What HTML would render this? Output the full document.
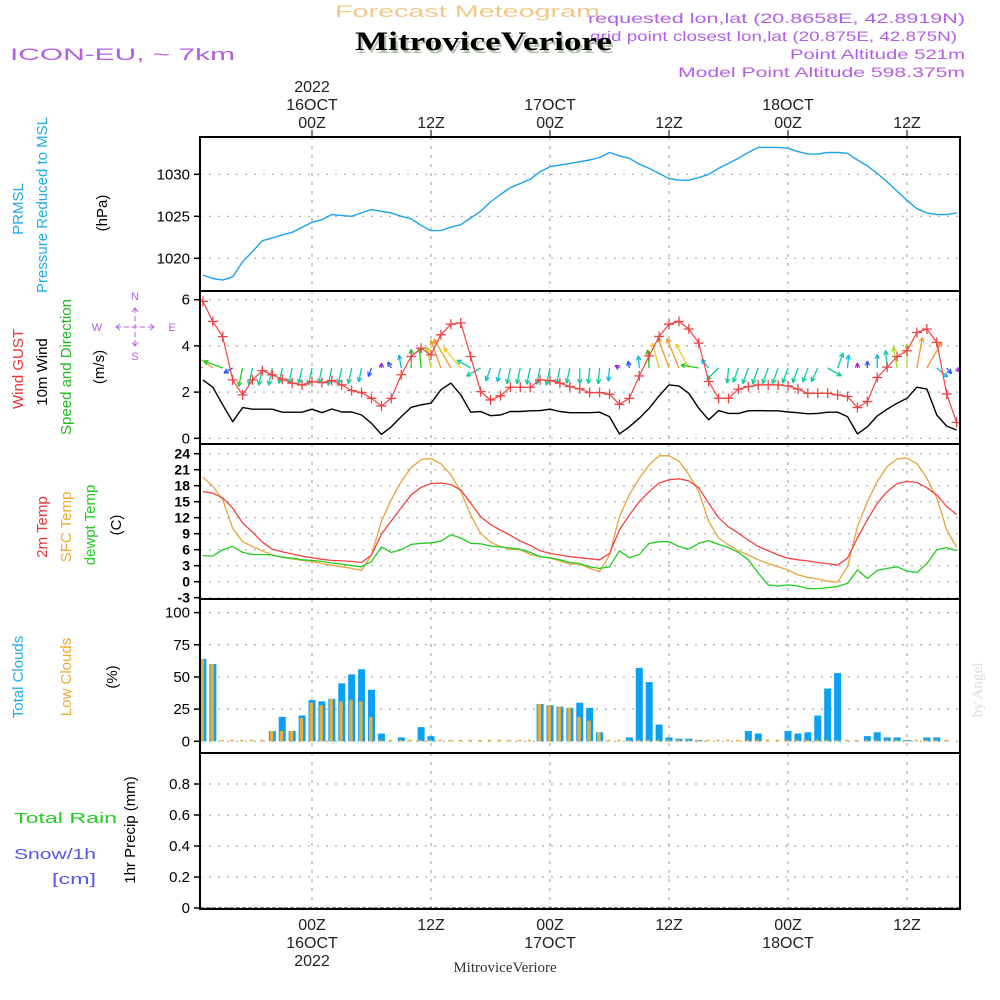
<!DOCTYPE html>
<html><head><meta charset="utf-8"><title>Forecast Meteogram</title>
<style>
html,body{margin:0;padding:0;background:#fff;}
svg{display:block;font-family:"Liberation Sans",sans-serif;}
</style></head>
<body>
<svg id="chart" xmlns="http://www.w3.org/2000/svg" width="1000" height="1000" viewBox="0 0 1000 1000">
<defs><clipPath id="plotclip"><rect x="200" y="130" width="760" height="790"/></clipPath></defs>
<rect x="0" y="0" width="1000" height="1000" fill="#fff"/>
<!-- header -->
<text x="335" y="17" font-size="17" fill="#f3c98a" textLength="265" lengthAdjust="spacingAndGlyphs">Forecast Meteogram</text>
<text x="588" y="23" font-size="14" fill="#b35ee6" textLength="377" lengthAdjust="spacingAndGlyphs">requested lon,lat (20.8658E, 42.8919N)</text>
<text x="590" y="41" font-size="14" fill="#b35ee6" textLength="367" lengthAdjust="spacingAndGlyphs">grid point closest lon,lat (20.875E, 42.875N)</text>
<text x="790" y="59" font-size="14" fill="#b35ee6" textLength="175" lengthAdjust="spacingAndGlyphs">Point Altitude 521m</text>
<text x="678" y="77" font-size="14" fill="#b35ee6" textLength="287" lengthAdjust="spacingAndGlyphs">Model Point Altitude 598.375m</text>
<text x="10" y="60" font-size="17" fill="#b35ee6" textLength="225" lengthAdjust="spacingAndGlyphs">ICON-EU, ~ 7km</text>
<text x="357" y="53" font-size="26" font-weight="bold" fill="#b9c6b3" font-family="Liberation Serif, serif" textLength="257" lengthAdjust="spacingAndGlyphs">MitroviceVeriore</text>
<text x="355" y="50" font-size="26" font-weight="bold" fill="#000" font-family="Liberation Serif, serif" textLength="257" lengthAdjust="spacingAndGlyphs">MitroviceVeriore</text>
<text x="982" y="690" font-size="15" fill="#dcdcdc" font-family="Liberation Serif, serif" text-anchor="middle" transform="rotate(-90 982 690)">by Angel</text>
<text x="505" y="972" font-size="15" fill="#333" font-family="Liberation Serif, serif" text-anchor="middle">MitroviceVeriore</text>

<!-- left labels -->
<g font-size="15" text-anchor="middle">
<text transform="translate(23,209) rotate(-90)" fill="#22aaee">PRMSL</text>
<text transform="translate(47,205) rotate(-90)" fill="#22aaee">Pressure Reduced to MSL</text>
<text transform="translate(107,213) rotate(-90)" fill="#000">(hPa)</text>
<text transform="translate(23,369) rotate(-90)" fill="#ee3333">Wind GUST</text>
<text transform="translate(47,372) rotate(-90)" fill="#000">10m Wind</text>
<text transform="translate(71,367) rotate(-90)" fill="#22bb22">Speed and Direction</text>
<text transform="translate(104,367) rotate(-90)" fill="#000">(m/s)</text>
<text transform="translate(47,527) rotate(-90)" fill="#ee3333">2m Temp</text>
<text transform="translate(71,527) rotate(-90)" fill="#eeaa33">SFC Temp</text>
<text transform="translate(95,525) rotate(-90)" fill="#22cc22">dewpt Temp</text>
<text transform="translate(121,525) rotate(-90)" fill="#000">(C)</text>
<text transform="translate(23,677) rotate(-90)" fill="#22aaee">Total Clouds</text>
<text transform="translate(71,677) rotate(-90)" fill="#eeaa33">Low Clouds</text>
<text transform="translate(117,677) rotate(-90)" fill="#000">(%)</text>
<text transform="translate(135,830) rotate(-90)" fill="#000">1hr Precip (mm)</text>
</g>
<text x="14" y="823" font-size="15" fill="#22cc22" textLength="103" lengthAdjust="spacingAndGlyphs">Total   Rain</text>
<text x="14" y="859" font-size="15" fill="#5555ee" textLength="82" lengthAdjust="spacingAndGlyphs">Snow/1h</text>
<text x="52" y="884" font-size="15" fill="#5555ee" textLength="44" lengthAdjust="spacingAndGlyphs">[cm]</text>

<!-- compass -->
<g stroke="#b35ee6" fill="none" stroke-width="1">
<line x1="116" y1="327" x2="154" y2="327" stroke-dasharray="5 3"/>
<line x1="135" y1="308" x2="135" y2="346" stroke-dasharray="5 3"/>
<polyline points="120,324 116,327 120,330"/><polyline points="150,324 154,327 150,330"/>
<polyline points="132,312 135,308 138,312"/><polyline points="132,342 135,346 138,342"/>
</g>
<g font-size="11" fill="#b35ee6" text-anchor="middle">
<text x="135" y="300">N</text><text x="135" y="360">S</text><text x="97" y="331">W</text><text x="172" y="331">E</text>
</g>

<g id="grid"></g>
<g id="marks" clip-path="url(#plotclip)"></g>
<g id="axes"></g>
</svg>
<script>
// ---- data (hourly, starting 13Z 15 OCT 2022) ----
const timeTicks = [0, 12, 24, 36, 48, 60]; // hours since 00Z 16OCT
const timeTickLabels = ["00Z","12Z","00Z","12Z","00Z","12Z"];
const dateLabels = ["16OCT","","17OCT","","18OCT",""];
const yearLabels = ["2022","","","","",""];
const pressure = [1018.0,1017.6,1017.4,1017.8,1019.6,1020.8,1022.1,1022.4,1022.8,1023.1,1023.7,1024.3,1024.6,1025.2,1025.1,1025.0,1025.4,1025.8,1025.6,1025.4,1025.0,1024.7,1023.9,1023.3,1023.3,1023.7,1024.0,1024.8,1025.6,1026.7,1027.6,1028.4,1028.9,1029.4,1030.3,1030.9,1031.1,1031.3,1031.5,1031.7,1032.0,1032.6,1032.2,1031.9,1031.2,1030.7,1030.1,1029.5,1029.3,1029.3,1029.6,1030.0,1030.7,1031.3,1031.9,1032.6,1033.2,1033.2,1033.2,1033.1,1032.7,1032.4,1032.4,1032.6,1032.6,1032.5,1031.7,1031.0,1030.1,1029.1,1028.0,1026.9,1025.9,1025.4,1025.2,1025.2,1025.4];
const windGust = [5.93,5.06,4.4,2.53,1.88,2.53,2.93,2.75,2.56,2.39,2.31,2.46,2.41,2.5,2.31,2.07,1.98,1.73,1.4,1.73,2.75,3.54,3.9,3.61,4.48,4.94,4.99,3.54,2.02,1.66,1.84,2.21,2.21,2.21,2.53,2.5,2.39,2.24,
 2.14,1.98,1.98,1.91,1.47,1.73,2.7,3.57,4.41,4.94,5.06,4.73,4.12,2.46,1.73,1.73,2.13,2.24,2.31,2.31,2.31,2.27,2.13,1.95,1.95,1.95,1.88,1.81,1.33,1.59,2.63,3.08,3.54,3.79,4.58,4.73,4.15,1.92,0.69];
const windSpeed = [2.53,2.21,1.45,0.72,1.33,1.26,1.26,1.26,1.13,1.13,1.13,1.26,1.11,1.27,1.14,1.14,1.01,0.65,0.17,0.5,0.94,1.34,1.45,1.52,2.1,2.39,1.88,1.13,1.16,0.98,1.01,1.16,1.16,1.19,1.2,1.26,1.16,1.11,
 1.11,1.11,1.13,0.94,0.19,0.5,0.87,1.3,1.84,2.31,2.27,1.95,1.3,0.8,1.2,1.08,1.08,1.19,1.2,1.19,1.19,1.14,1.11,1.06,1.08,1.13,1.13,0.94,0.19,0.5,0.97,1.26,1.52,1.73,2.21,2.13,1.01,0.53,0.36];
// arrow pointing direction in degrees (0 = up/north, clockwise)
const windDir = [-60,-55,-70,-120,192,192,192,192,192,192,192,192,192,192,192,192,192,200,0,-30,-10,0,-5,-10,-20,-30,-40,-60,-120,200,192,192,192,192,192,192,192,192,
 180,185,185,185,-60,-10,-5,-5,-15,-20,-22,-28,-80,-40,225,185,200,200,200,200,200,200,200,200,205,120,20,5,0,0,0,-5,-10,0,10,30,130,140,140];
const temp2m = [16.9,16.6,15.7,13.8,11,9.3,7.4,6.1,5.6,5.2,4.8,4.5,4.2,4.0,3.9,3.8,3.6,5,8.9,11.4,13.9,16.3,17.7,18.4,18.5,18.2,17.2,14.7,12.2,10.7,9.7,8.7,7.6,6.8,5.8,5.3,5.0,4.7,
 4.5,4.3,4.1,5.3,9.7,12.5,15,16.9,18.5,19.1,19.3,18.9,17.6,14.7,12,10.3,9.1,7.8,6.6,5.8,5,4.4,4.1,3.9,3.6,3.4,3.1,4.4,8.2,11.6,14.7,16.9,18.4,18.8,18.6,17.6,16.3,14.1,12.6];
const tempSfc = [19.6,17.9,15.4,10,7.5,6.6,5.8,5,4.6,4.3,4,3.8,3.4,3.1,2.8,2.5,2.1,5,11.3,15.4,18.8,21.4,22.9,23.1,22.1,20.1,16.9,12.5,9.1,7.4,6.6,6.1,6,5.1,4.7,4.4,3.9,3.3,
 3.3,2.5,1.9,5,12.2,16.3,19.4,21.9,23.6,23.6,22.6,20.1,16.9,11.3,8.2,6.9,5.8,5,4.1,3.4,2.8,2.2,1.3,0.8,0.5,0.1,-0.1,2.8,10.3,15,18.8,21.6,23,23.2,22.1,19.4,15.7,9.7,6.5];
const dewpoint = [4.9,4.8,6,6.6,5.5,5.1,5.1,5,4.6,4.4,4.1,4,3.8,3.5,3.3,3,2.8,3.8,6.5,5.5,6,7,7.2,7.3,7.6,8.8,8.2,7.2,7.1,6.7,6.5,6.3,6.1,5.5,4.7,4.5,4.1,3.6,
 3.4,2.8,2.5,2.8,5.8,4.5,5.1,7.2,7.5,7.5,6.6,6.1,7.2,7.7,7,6.4,5.5,4.1,1.6,-0.6,-0.8,-0.6,-0.8,-1.3,-1.3,-1.1,-0.9,-0.3,2.2,0.6,2.1,2.5,2.8,2,1.7,3.4,6,6.4,5.8];
const totalClouds = [64,60,0,0,0,0,0,8,19,8,20,32,31,33,45,52,56,40,6,0,3,0,11,4,0,0,0,0,0,0,0,0,0,0,29,28,27,26,30,26,7,0,0,3,57,46,13,3,2,2,1,0,0,0,0,8,6,0,0,8,6,7,20,41,53,0,0,4,7,3,3,1,0,3,3,0];
const lowClouds = [64,60,0,0,0,0,0,8,8,8,18,30,28,33,31,32,31,19,0,0,0,0,0,0,0,0,0,0,0,0,0,0,0,0,29,28,27,26,19,16,7,0,0,0,0,0,0,0,0,0,0,0,0,0,0,0,0,0,0,0,0,0,0,0,0,0,0,0,0,0,0,0,0,0,0,0];
const precip = [];
const pTicks = [1020,1025,1030];
const wTicks = [0,2,4,6];
const tTicks = [-3,0,3,6,9,12,15,18,21,24];
const cTicks = [0,25,50,75,100];
const rTicks = [0,0.2,0.4,0.6,0.8];
const rTickLabels = ["0","0.2","0.4","0.6","0.8"];

// ---- scales ----
const X0 = 200, X1 = 960;
const START_OFFSET = -11; // index 0 = 13Z 15OCT
const PX_PER_H = 9.917;
function xH(h){ return 312 + h*PX_PER_H; }
function xI(i){ return xH(i + START_OFFSET); }
function yP(v){ return 174.3 + (1030 - v)*8.4; }
function yW(v){ return 438.3 - v*23.1; }
function yT(v){ return 581.7 - v*5.333; }
function yC(v){ return 741.3 - v*1.287; }
function yR(v){ return 908 - v*155; }

const NS = "http://www.w3.org/2000/svg";
function mk(tag, attrs, parent){
  const e = document.createElementNS(NS, tag);
  for (const k in attrs) e.setAttribute(k, attrs[k]);
  parent.appendChild(e);
  return e;
}
const grid = document.getElementById('grid');
const marks = document.getElementById('marks');
const axes = document.getElementById('axes');

const panels = [
  {top:137, bot:291, ticks:pTicks, labels:pTicks.map(String), y:yP, name:'pressure', fs:15, bold:false},
  {top:291, bot:444, ticks:wTicks, labels:wTicks.map(String), y:yW, name:'wind', fs:15, bold:false},
  {top:444, bot:599, ticks:tTicks, labels:tTicks.map(String), y:yT, name:'temperature', fs:14, bold:true},
  {top:599, bot:753, ticks:cTicks, labels:cTicks.map(String), y:yC, name:'clouds', fs:15, bold:false},
  {top:753, bot:909, ticks:rTicks, labels:rTickLabels, y:yR, name:'precip', fs:15, bold:false}
];

// gridlines
panels.forEach(p => {
  p.ticks.forEach((t, k) => {
    const yy = p.y(t);
    const g = mk('line', {x1:X0, x2:X1, y1:yy, y2:yy, stroke:'#aaa', 'stroke-width':1.2, 'stroke-dasharray':'2 7'}, grid);
    
    
    const tk = mk('line', {x1:194, x2:200, y1:yy, y2:yy, stroke:'#000', 'stroke-width':1.5}, axes);
    
    
    const tx = mk('text', {x:190, y:yy+5, 'font-size':p.fs, 'text-anchor':'end', fill:'#000', 'font-weight':p.bold?'bold':'normal'}, axes);
    tx.textContent = p.labels[k];
    
    
  });
  timeTicks.forEach(h => {
    const g = mk('line', {x1:xH(h), x2:xH(h), y1:p.top, y2:p.bot, stroke:'#aaa', 'stroke-width':1.2, 'stroke-dasharray':'3 6'}, grid);
    
    
  });
});

// time axis labels
timeTicks.forEach((h, k) => {
  const x = xH(h);
  const t1 = mk('line', {x1:x, x2:x, y1:130, y2:137, stroke:'#000', 'stroke-width':1}, axes);
  
  
  const lines = [[timeTickLabels[k],128,930],[dateLabels[k],110,948],[yearLabels[k],92,966]];
  lines.forEach(L => {
    if (!L[0]) return;
    const a = mk('text', {x:x, y:L[1], 'font-size':16, 'text-anchor':'middle', fill:'#222'}, axes);
    a.textContent = L[0];
    
    
    const b = mk('text', {x:x, y:L[2], 'font-size':16, 'text-anchor':'middle', fill:'#222'}, axes);
    b.textContent = L[0];
    
    
  });
});

function line(arr, yf, color, name, w){
  const pts = arr.map((v,i) => xI(i).toFixed(1) + ',' + yf(v).toFixed(1)).join(' ');
  const l = mk('polyline', {points:pts, fill:'none', stroke:color, 'stroke-width':w||1.3, 'stroke-linejoin':'round'}, marks);
  
  
}

// pressure
line(pressure, yP, '#1ba3f0', 'pressure-line', 1.4);

// clouds
totalClouds.forEach((v, i) => {
  const x = xI(i);
  if (v > 0) {
    const r = mk('rect', {x:x-3.5, y:yC(v), width:7, height:yC(0)-yC(v), fill:'#0aa0f5'}, marks);
    
    
  }
  const lv = lowClouds[i];
  const hgt = Math.max(yC(0)-yC(lv), 1.5);
  const o = mk('rect', {x:x-2.5, y:yC(0)-hgt, width:3.5, height:hgt, fill:'#e8ad3a'}, marks);
  
  
});

// temperature
line(tempSfc, yT, '#e8a33a', 'sfc-temp-line', 1.3);
line(dewpoint, yT, '#22cc22', 'dewpoint-line', 1.3);
line(temp2m, yT, '#f04444', '2m-temp-line', 1.3);

// wind speed black
line(windSpeed, yW, '#000', 'wind-speed-line', 1.4);

// wind arrows
function arrowColor(s){
  if (s < 0.4) return '#9a22ee';
  if (s < 0.8) return '#3355ff';
  if (s < 1.05) return '#11bbdd';
  if (s < 1.3) return '#11cc99';
  if (s < 1.5) return '#22cc22';
  if (s < 1.8) return '#aadd22';
  if (s < 2.05) return '#eecc22';
  return '#ee9933';
}
windSpeed.forEach((s, i) => {
  const x = xI(i), y = 368;
  const a = windDir[i] * Math.PI / 180;
  const L = Math.max(5, 14*s);
  const hx = x + L*Math.sin(a), hy = y - L*Math.cos(a);
  const c = arrowColor(s);
  const g = mk('g', {stroke:c, 'stroke-width':1.3, fill:'none'}, marks);
  
  
  mk('line', {x1:x, y1:y, x2:hx, y2:hy}, g);
  const hl = 5;
  [0.45, -0.45].forEach(d => {
    const b = a + Math.PI + d;
    mk('line', {x1:hx, y1:hy, x2:hx + hl*Math.sin(b), y2:hy - hl*Math.cos(b)}, g);
  });
});

// wind gust line + markers
line(windGust, yW, '#f04444', 'wind-gust-line', 1.2);
windGust.forEach((v, i) => {
  const x = xI(i), y = yW(v);
  const m = mk('path', {d:`M${x-5},${y}H${x+5}M${x},${y-5}V${y+5}`, stroke:'#f04444', 'stroke-width':1.3}, marks);
  
  
});

// precip baseline (no precipitation)
const pb = mk('line', {x1:X0, x2:X1, y1:yR(0), y2:yR(0), stroke:'#000', 'stroke-width':1, 'stroke-dasharray':'4 2'}, marks);



// panel frames
panels.forEach(p => {
  const r = mk('rect', {x:X0, y:p.top, width:X1-X0, height:p.bot-p.top, fill:'none', stroke:'#000', 'stroke-width':2}, axes);
  
  
});
</script>
</body></html>
